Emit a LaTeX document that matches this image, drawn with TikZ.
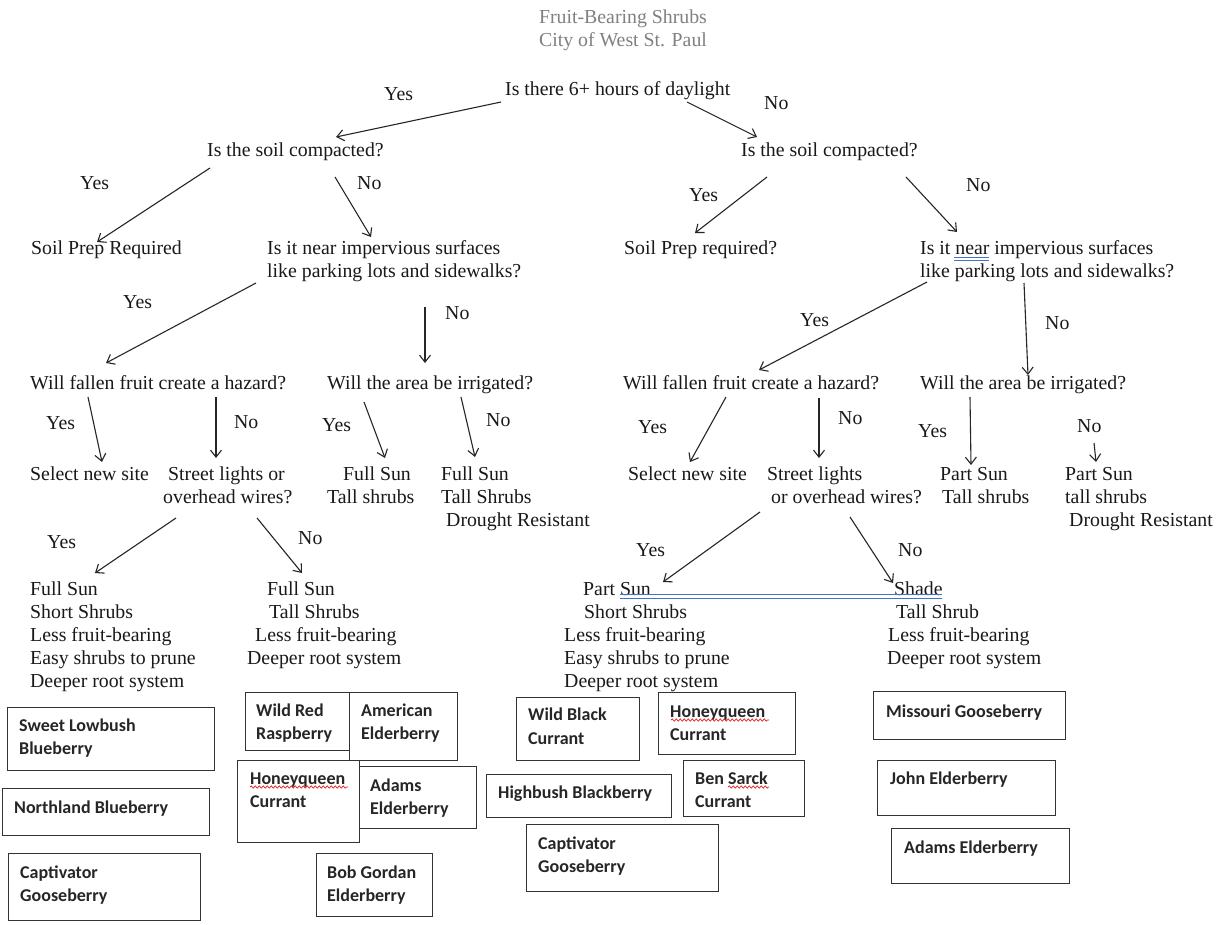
\documentclass[tikz,border=0pt]{standalone}
\usepackage{fontspec}
\setmainfont{Liberation Serif}
\newfontfamily\boxfont{Carlito}
\usetikzlibrary{arrows.meta,decorations.pathmorphing}
\definecolor{titlegray}{RGB}{128,128,128}
\definecolor{wordblue}{RGB}{68,114,196}
\definecolor{spellred}{RGB}{230,30,30}
\begin{document}
\begin{tikzpicture}[x=1pt,y=-1pt,
  txt/.style={anchor=base west,inner sep=0pt,font=\fontsize{19.8}{23}\selectfont,text=black!90},
  ttl/.style={anchor=base,inner sep=0pt,font=\fontsize{19.8}{23}\selectfont,text=titlegray},
  bt/.style={anchor=base west,inner sep=0pt,font=\boxfont\bfseries\fontsize{18}{23}\selectfont,text=black!85},
  bx/.style={draw=black!80,line width=1.3pt,anchor=north west,inner sep=0pt},
  arr/.style={draw=black!85,line width=1.1pt,-{Straight Barb[length=7pt,width=11pt,line width=1.1pt]}},
  dblue/.style={draw=wordblue,line width=1.1pt},
  wavy/.style={draw=spellred,line width=0.7pt,decorate,decoration={snake,amplitude=1.1pt,segment length=4pt}}
]
\useasboundingbox[fill=white] (0,0) rectangle (1225,924);

% title
\node[ttl] (t1) at (623,23) {Fruit-Bearing Shrubs};
\node[ttl] (t2) at (623,46) {City of West St. Paul};

% level 0
\node[txt] (q0) at (505,95) {Is there 6+ hours of daylight};
\node[txt] (l0y) at (384,100) {Yes};
\node[txt] (l0n) at (764,109) {No};

% level 1
\node[txt] (qL1) at (207,156) {Is the soil compacted?};
\node[txt] (qR1) at (741,156) {Is the soil compacted?};
\node[txt] (l1ay) at (80,189) {Yes};
\node[txt] (l1an) at (357,189) {No};
\node[txt] (l1by) at (689,201) {Yes};
\node[txt] (l1bn) at (966,191) {No};

% level 2
\node[txt] (sL) at (31,254) {Soil Prep Required};
\node[txt] (qL2a) at (267,254) {Is it near impervious surfaces};
\node[txt] (qL2b) at (267,277) {like parking lots and sidewalks?};
\node[txt] (sR) at (624,254) {Soil Prep required?};
\node[txt] (qR2a) at (920,254) {Is it near impervious surfaces};
\node[txt] (qR2b) at (920,277) {like parking lots and sidewalks?};
\node[txt] (l2ay) at (123,308) {Yes};
\node[txt] (l2an) at (445,319) {No};
\node[txt] (l2by) at (800,326) {Yes};
\node[txt] (l2bn) at (1045,329) {No};

% level 3
\node[txt] (hL) at (30,389) {Will fallen fruit create a hazard?};
\node[txt] (iL) at (327,389) {Will the area be irrigated?};
\node[txt] (hR) at (623,389) {Will fallen fruit create a hazard?};
\node[txt] (iR) at (920,389) {Will the area be irrigated?};
\node[txt] (l3a) at (46,429) {Yes};
\node[txt] (l3b) at (234,428) {No};
\node[txt] (l3c) at (322,431) {Yes};
\node[txt] (l3d) at (486,426) {No};
\node[txt] (l3e) at (638,433) {Yes};
\node[txt] (l3f) at (838,424) {No};
\node[txt] (l3g) at (918,437) {Yes};
\node[txt] (l3h) at (1077,432) {No};

% level 4 left
\node[txt] (nsL) at (30,480) {Select new site};
\node[txt] (stL1) at (168,480) {Street lights or};
\node[txt] (stL2) at (163,503) {overhead wires?};
\node[txt] (fs1a) at (343,480) {Full Sun};
\node[txt] (fs1b) at (327,503) {Tall shrubs};
\node[txt] (fs2a) at (441,480) {Full Sun};
\node[txt] (fs2b) at (441,503) {Tall Shrubs};
\node[txt] (fs2c) at (446,526) {Drought Resistant};
% level 4 right
\node[txt] (nsR) at (628,480) {Select new site};
\node[txt] (stR1) at (767,480) {Street lights};
\node[txt] (stR2) at (771,503) {or overhead wires?};
\node[txt] (ps1a) at (940,480) {Part Sun};
\node[txt] (ps1b) at (942,503) {Tall shrubs};
\node[txt] (ps2a) at (1065,480) {Part Sun};
\node[txt] (ps2b) at (1065,503) {tall shrubs};
\node[txt] (ps2c) at (1069,526) {Drought Resistant};

% level 5 labels
\node[txt] (l5a) at (47,548) {Yes};
\node[txt] (l5b) at (298,544) {No};
\node[txt] (l5c) at (636,556) {Yes};
\node[txt] (l5d) at (898,556) {No};

% leaves
\node[txt] (A1) at (30,595) {Full Sun};
\node[txt] (A2) at (30,618) {Short Shrubs};
\node[txt] (A3) at (30,641) {Less fruit-bearing};
\node[txt] (A4) at (30,664) {Easy shrubs to prune};
\node[txt] (A5) at (30,687) {Deeper root system};
\node[txt] (B1) at (267,595) {Full Sun};
\node[txt] (B2) at (269,618) {Tall Shrubs};
\node[txt] (B3) at (255,641) {Less fruit-bearing};
\node[txt] (B4) at (247,664) {Deeper root system};
\node[txt] (C1) at (583,595) {Part Sun};
\node[txt] (C2) at (584,618) {Short Shrubs};
\node[txt] (C3) at (564,641) {Less fruit-bearing};
\node[txt] (C4) at (564,664) {Easy shrubs to prune};
\node[txt] (C5) at (564,687) {Deeper root system};
\node[txt] (D1) at (894,595) {Shade};
\node[txt] (D2) at (896,618) {Tall Shrub};
\node[txt] (D3) at (888,641) {Less fruit-bearing};
\node[txt] (D4) at (887,664) {Deeper root system};

% spelling / grammar marks
\draw[dblue] (620,594.5) -- (942,594.5);
\draw[dblue] (620,598.5) -- (942,598.5);
\draw[dblue,line width=0.8pt] (954,257.5) -- (989,257.5);
\draw[dblue,line width=0.8pt] (954,260.5) -- (989,260.5);

% arrow end points
\coordinate (a1s) at (501,102);  \coordinate (a1e) at (336,137);
\coordinate (a2s) at (687,102);  \coordinate (a2e) at (757,137);
\coordinate (a3s) at (210,168);  \coordinate (a3e) at (97,242);
\coordinate (a4s) at (335,177);  \coordinate (a4e) at (371,237);
\coordinate (a5s) at (767,177);  \coordinate (a5e) at (695,233);
\coordinate (a6s) at (906,177);  \coordinate (a6e) at (957,232);
\coordinate (a7s) at (256,283);  \coordinate (a7e) at (106,363);
\coordinate (a8s) at (425,307);  \coordinate (a8e) at (425,363);
\coordinate (a9s) at (927,282);  \coordinate (a9e) at (759,370);
\coordinate (a10s) at (1024,283); \coordinate (a10e) at (1028,375);
\coordinate (a11s) at (88,397);  \coordinate (a11e) at (102,462);
\coordinate (a12s) at (216,397); \coordinate (a12e) at (216,458);
\coordinate (a13s) at (364,402); \coordinate (a13e) at (385,458);
\coordinate (a14s) at (461,397); \coordinate (a14e) at (475,457);
\coordinate (a15s) at (726,397); \coordinate (a15e) at (690,462);
\coordinate (a16s) at (819,398); \coordinate (a16e) at (819,458);
\coordinate (a17s) at (970,397); \coordinate (a17e) at (971,465);
\coordinate (a18s) at (1094,443); \coordinate (a18e) at (1096,462);
\coordinate (a19s) at (176,518); \coordinate (a19e) at (95,573);
\coordinate (a20s) at (257,518); \coordinate (a20e) at (302,573);
\coordinate (a21s) at (760,512); \coordinate (a21e) at (663,582);
\coordinate (a22s) at (850,517); \coordinate (a22e) at (893,583);
\foreach \i in {1,...,22} {\draw[arr] (a\i s) -- (a\i e);}

% plant boxes, left
\node[bx,minimum width=207pt,minimum height=63pt] (b1) at (7,707) {};
\node[bt] at (19,731) {Sweet Lowbush};
\node[bt] at (19,754) {Blueberry};
\node[bx,minimum width=207pt,minimum height=47pt] (b2) at (2,788) {};
\node[bt] at (14,813) {Northland Blueberry};
\node[bx,minimum width=192pt,minimum height=67pt] (b3) at (8,853) {};
\node[bt] at (20,878) {Captivator};
\node[bt] at (20,901) {Gooseberry};
\node[bx,minimum width=104pt,minimum height=58pt] (b4) at (245,692) {};
\node[bt] at (256,716) {Wild Red};
\node[bt] at (256,739) {Raspberry};
\node[bx,minimum width=108pt,minimum height=68pt] (b5) at (349,692) {};
\node[bt] at (361,716) {American};
\node[bt] at (361,739) {Elderberry};
\node[bx,minimum width=122pt,minimum height=82pt] (b6) at (237,760) {};
\node[bt] (hq1) at (250,784) {Honeyqueen};
\node[bt] at (250,807) {Currant};
\node[bx,minimum width=117pt,minimum height=62pt] (b7) at (359,766) {};
\node[bt] at (370,791) {Adams};
\node[bt] at (370,814) {Elderberry};
\node[bx,minimum width=116pt,minimum height=63pt] (b8) at (316,853) {};
\node[bt] at (327,878) {Bob Gordan};
\node[bt] at (327,901) {Elderberry};

% plant boxes, middle
\node[bx,minimum width=123pt,minimum height=63pt] (c1) at (516,697) {};
\node[bt] at (528,720) {Wild Black};
\node[bt] at (528,744) {Currant};
\node[bx,minimum width=137pt,minimum height=62pt] (c2) at (658,692) {};
\node[bt] (hq2) at (670,717) {Honeyqueen};
\node[bt] at (670,740) {Currant};
\node[bx,minimum width=185pt,minimum height=43pt] (c3) at (486,774) {};
\node[bt] at (498,798) {Highbush Blackberry};
\node[bx,minimum width=121pt,minimum height=56pt] (c4) at (683,760) {};
\node[bt] (bs) at (695,784) {Ben Sarck};
\node[bt] at (695,807) {Currant};
\node[bx,minimum width=192pt,minimum height=67pt] (c5) at (526,824) {};
\node[bt] at (538,849) {Captivator};
\node[bt] at (538,872) {Gooseberry};

% plant boxes, right
\node[bx,minimum width=192pt,minimum height=48pt] (d1) at (873,691) {};
\node[bt] at (886,717) {Missouri Gooseberry};
\node[bx,minimum width=178pt,minimum height=55pt] (d2) at (877,760) {};
\node[bt] at (890,784) {John Elderberry};
\node[bx,minimum width=178pt,minimum height=55pt] (d3) at (891,828) {};
\node[bt] at (904,853) {Adams Elderberry};

% spell-check squiggles
\draw[wavy] (250,787) -- (348,787);
\draw[wavy] (671,720) -- (769,720);
\draw[wavy] (728,787) -- (769,787);
\end{tikzpicture}
\end{document}
